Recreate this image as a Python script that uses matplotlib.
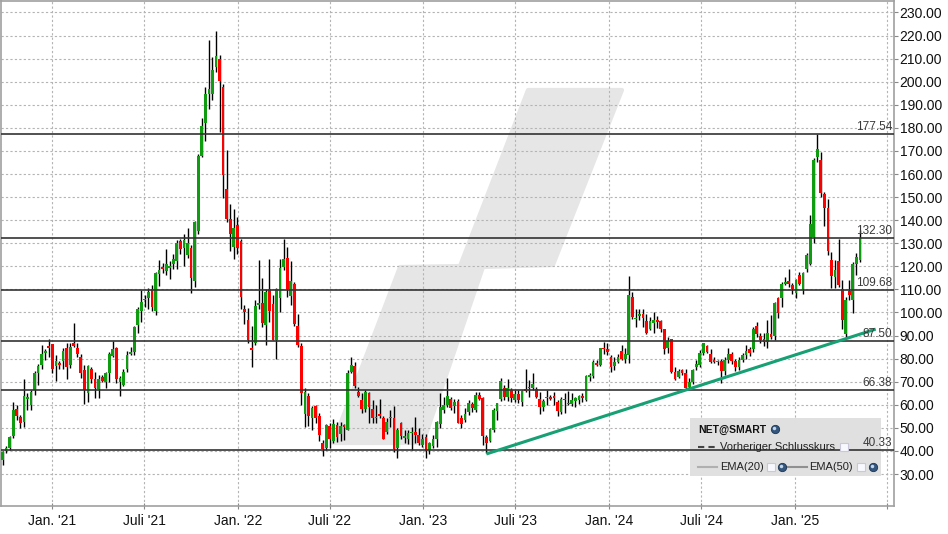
import pandas as pd
import matplotlib
matplotlib.use('Agg')
import matplotlib.pyplot as plt
import matplotlib.dates as mdates
from matplotlib.patches import Polygon, Rectangle
import matplotlib.transforms as mtransforms

plt.rcParams['font.family'] = ['Liberation Sans', 'DejaVu Sans']

# weekly candles, NET@SMART
start_week = '2020-09-25'

opens = [
    36.0, 40.0, 41.2, 46.5, 58.0, 54.8, 52.6, 62.5, 59.9, 66.4,
    73.9, 77.2, 82.6, 85.4, 86.3, 77.0, 78.0, 79.0, 84.5, 77.2,
    86.7, 84.5, 80.5, 75.0, 65.0, 75.5, 71.4, 67.0, 72.0, 69.7,
    73.6, 81.0, 84.5, 69.7, 68.8, 75.5, 82.2, 83.0, 94.8, 100.7,
    105.4, 106.5, 110.0, 100.7, 116.6, 119.6, 117.9, 119.4, 120.9, 122.4,
    130.9, 128.0, 124.8, 127.8, 113.7, 135.2, 167.7, 182.0, 194.5, 194.5,
    206.3, 209.7, 197.7, 153.4, 140.4, 128.4, 137.8, 130.9, 101.4, 96.7,
    84.6, 86.6, 103.2, 104.3, 94.8, 110.0, 103.6, 88.0, 106.3, 119.8,
    123.6, 107.0, 112.3, 94.0, 85.5, 56.0, 63.9, 54.5, 59.4, 55.1,
    43.3, 41.1, 50.9, 44.3, 51.2, 47.3, 51.0, 49.3, 74.3, 76.8,
    65.6, 62.0, 58.0, 64.9, 58.0, 54.3, 55.8, 54.5, 48.3, 54.1,
    54.1, 41.1, 52.2, 45.8, 45.0, 47.7, 48.3, 46.9, 42.6, 45.9,
    40.4, 42.1, 45.2, 51.9, 57.7, 59.9, 62.5, 59.6, 61.6, 54.1,
    53.4, 57.0, 60.3, 57.7, 64.2, 63.0, 46.2, 44.4, 49.0, 57.4,
    62.5, 67.1, 63.5, 66.4, 62.3, 64.9, 61.3, 66.6, 67.5, 67.5,
    66.8, 62.3, 59.1, 62.9, 63.0, 63.4, 61.3, 57.0, 62.4, 60.3,
    60.5, 61.5, 62.3, 63.8, 62.3, 72.1, 72.4, 78.2, 77.2, 84.7,
    84.0, 80.8, 76.7, 78.6, 83.4, 79.8, 81.5, 106.8, 97.1, 98.5,
    99.5, 96.2, 92.8, 95.5, 96.9, 96.2, 92.8, 84.8, 88.4, 74.3,
    72.1, 75.0, 74.0, 67.8, 70.0, 76.5, 77.2, 82.5, 85.4, 81.9,
    79.3, 78.5, 79.0, 74.5, 79.5, 82.0, 79.0, 76.5, 79.5, 81.5,
    84.0, 84.0, 94.2, 89.7, 88.7, 87.3, 90.9, 89.7, 106.1, 106.1,
    112.3, 113.5, 111.8, 108.5, 116.1, 110.0, 119.0, 121.2, 132.7, 167.4,
    166.2, 151.2, 145.4, 122.6, 115.4, 122.2, 110.0, 90.9, 109.4, 105.3,
    120.9, 122.6,
]
highs = [
    40.0, 42.1, 46.5, 61.3, 59.9, 55.5, 71.0, 65.2, 66.5, 74.5,
    77.6, 85.9, 84.0, 88.5, 86.5, 81.5, 79.0, 84.7, 86.6, 86.6,
    95.5, 86.6, 82.2, 77.2, 77.2, 76.5, 74.3, 72.9, 72.9, 74.3,
    83.0, 87.7, 85.1, 72.3, 75.3, 83.3, 85.1, 94.1, 102.5, 109.7,
    107.5, 110.4, 111.8, 117.5, 122.6, 121.5, 127.3, 122.4, 125.5, 131.3,
    131.7, 134.2, 136.8, 129.1, 139.5, 168.8, 184.4, 197.7, 217.9, 210.7,
    221.8, 211.4, 199.1, 170.3, 147.2, 145.0, 141.4, 132.0, 103.2, 102.1,
    94.0, 105.3, 122.6, 115.1, 110.0, 123.1, 107.5, 110.4, 123.1, 132.0,
    128.4, 122.2, 113.3, 99.3, 86.6, 67.1, 64.9, 59.4, 59.9, 56.6,
    44.7, 51.5, 51.9, 53.8, 52.7, 52.7, 51.5, 75.0, 80.5, 78.6,
    67.8, 65.2, 66.6, 65.6, 62.0, 59.9, 62.3, 55.1, 54.4, 57.7,
    59.4, 49.8, 52.7, 49.0, 49.0, 50.5, 54.8, 49.8, 47.3, 47.3,
    44.0, 46.9, 53.1, 64.9, 63.5, 71.8, 63.2, 62.3, 62.3, 55.5,
    58.4, 62.0, 61.3, 65.6, 65.6, 63.5, 46.9, 49.8, 58.4, 60.9,
    71.4, 68.5, 71.0, 67.1, 66.4, 66.4, 66.4, 75.3, 70.7, 73.6,
    67.8, 65.6, 62.3, 66.4, 64.2, 65.6, 62.0, 63.5, 64.9, 66.0,
    65.2, 63.5, 64.2, 65.2, 72.8, 73.6, 79.3, 79.3, 84.8, 87.3,
    86.6, 81.5, 80.8, 81.8, 85.8, 84.4, 115.7, 108.9, 101.7, 101.7,
    101.3, 99.5, 98.1, 100.3, 98.4, 96.7, 93.0, 89.4, 88.7, 76.2,
    75.7, 75.7, 75.7, 71.4, 75.7, 79.3, 83.9, 86.9, 85.8, 84.0,
    80.8, 79.3, 80.0, 80.5, 84.4, 83.0, 80.0, 80.5, 82.5, 85.8,
    85.0, 93.8, 95.9, 90.9, 90.9, 96.9, 98.8, 104.6, 106.8, 113.3,
    115.4, 119.0, 112.8, 114.7, 117.6, 117.6, 125.8, 142.1, 167.1, 177.54,
    169.5, 152.2, 149.0, 126.2, 122.6, 132.0, 114.0, 106.8, 114.0, 121.9,
    125.8, 135.9,
]
lows = [
    34.0, 38.9, 40.5, 45.5, 53.4, 49.8, 50.2, 57.7, 57.7, 64.2,
    68.5, 75.3, 79.4, 80.5, 73.6, 70.3, 75.5, 75.7, 71.0, 76.0,
    85.1, 80.8, 71.8, 60.2, 61.0, 69.3, 63.0, 62.8, 70.0, 67.4,
    69.7, 80.8, 69.3, 63.9, 68.2, 74.3, 81.5, 81.5, 91.3, 96.0,
    102.5, 101.3, 100.7, 98.8, 111.5, 116.9, 116.1, 114.4, 119.0, 119.0,
    125.5, 120.0, 123.8, 108.5, 111.1, 134.2, 167.4, 174.3, 188.1, 191.9,
    204.2, 178.2, 149.8, 139.2, 126.7, 123.0, 125.5, 101.3, 95.2, 86.9,
    76.2, 85.8, 101.7, 93.5, 86.1, 95.9, 88.0, 80.0, 100.0, 118.6,
    106.5, 103.2, 94.1, 85.1, 59.9, 50.5, 50.8, 49.0, 52.2, 44.4,
    37.8, 40.4, 41.1, 43.3, 44.0, 44.4, 44.7, 49.0, 73.6, 67.1,
    63.5, 56.3, 57.0, 51.9, 52.2, 51.9, 54.1, 45.0, 47.3, 50.5,
    39.7, 36.8, 45.0, 43.3, 42.8, 40.4, 43.3, 42.6, 41.8, 36.8,
    38.6, 41.1, 41.5, 49.8, 56.3, 59.2, 57.7, 56.3, 51.9, 49.8,
    52.6, 55.5, 57.0, 57.0, 62.0, 42.5, 38.9, 44.0, 48.3, 53.4,
    61.6, 62.0, 61.6, 61.3, 61.3, 60.6, 59.4, 65.6, 63.5, 66.4,
    62.8, 55.8, 57.4, 59.9, 62.0, 59.9, 55.1, 55.9, 56.3, 59.9,
    59.5, 59.0, 60.5, 61.0, 61.5, 70.5, 71.4, 76.8, 76.8, 81.8,
    81.5, 74.3, 75.0, 77.9, 79.3, 77.9, 77.9, 97.0, 93.8, 96.7,
    93.8, 90.6, 92.3, 90.9, 93.4, 91.6, 81.8, 82.5, 73.9, 70.7,
    71.4, 72.9, 66.4, 67.1, 69.2, 75.0, 76.5, 81.5, 82.5, 77.9,
    77.9, 77.2, 69.5, 73.0, 78.0, 77.5, 74.5, 75.0, 78.5, 80.0,
    81.0, 83.0, 89.5, 86.9, 85.4, 84.8, 88.7, 88.0, 97.8, 102.4,
    111.8, 111.1, 108.2, 106.1, 111.8, 108.2, 117.6, 120.5, 129.9, 165.2,
    150.1, 137.4, 124.8, 110.4, 110.4, 111.1, 93.0, 89.2, 105.3, 99.6,
    116.1, 121.9,
]
closes = [
    39.7, 41.4, 46.0, 57.7, 55.0, 52.0, 64.0, 63.3, 65.6, 74.0,
    76.9, 82.0, 83.3, 84.7, 75.5, 79.0, 77.3, 83.3, 76.5, 85.0,
    85.6, 82.2, 73.9, 66.6, 76.8, 71.0, 67.5, 71.0, 70.4, 73.6,
    82.2, 84.0, 71.4, 71.8, 74.3, 81.5, 82.7, 93.8, 101.6, 104.6,
    106.0, 109.0, 102.4, 116.9, 118.3, 119.0, 121.2, 120.0, 123.1, 129.9,
    127.7, 131.3, 129.9, 115.0, 139.2, 167.7, 181.0, 194.5, 197.0, 204.9,
    211.0, 200.3, 159.4, 140.4, 134.2, 136.8, 128.0, 106.8, 100.3, 88.3,
    83.8, 102.7, 104.3, 95.5, 109.0, 100.6, 88.3, 110.0, 119.3, 123.1,
    110.0, 113.6, 95.0, 85.8, 65.2, 65.6, 55.1, 58.7, 54.5, 46.9,
    40.8, 51.2, 45.0, 51.6, 46.2, 50.9, 50.5, 73.9, 77.2, 68.2,
    63.9, 58.4, 65.6, 58.9, 54.1, 54.9, 55.2, 45.4, 52.7, 54.6,
    40.7, 49.3, 46.6, 46.2, 47.6, 48.1, 46.9, 43.3, 45.0, 40.1,
    43.3, 45.2, 52.6, 59.1, 59.9, 63.8, 58.7, 61.3, 52.2, 51.9,
    56.0, 61.0, 58.7, 64.2, 62.5, 46.4, 43.6, 49.3, 57.7, 60.6,
    70.4, 63.5, 67.4, 63.0, 64.9, 62.0, 66.0, 66.2, 67.1, 69.0,
    63.2, 58.9, 61.6, 63.3, 62.6, 63.0, 57.4, 62.5, 62.0, 60.8,
    62.0, 62.8, 63.8, 62.8, 72.4, 72.8, 78.6, 77.2, 84.4, 84.0,
    83.0, 76.2, 78.6, 80.8, 79.8, 82.2, 107.5, 98.1, 97.8, 99.5,
    97.8, 91.2, 96.2, 96.7, 96.0, 93.0, 84.0, 87.7, 74.3, 71.4,
    74.6, 73.9, 67.5, 70.0, 75.0, 77.6, 82.5, 86.6, 83.0, 78.6,
    78.5, 79.2, 74.5, 79.5, 82.0, 79.0, 76.5, 79.5, 81.5, 83.5,
    82.5, 93.0, 90.9, 88.0, 87.3, 90.9, 89.5, 103.9, 99.6, 112.5,
    113.3, 112.3, 110.4, 114.3, 112.5, 117.2, 124.8, 138.2, 166.2, 171.0,
    151.8, 145.4, 126.7, 115.7, 118.6, 111.8, 96.9, 105.6, 107.5, 120.9,
    124.1, 132.3,
]

levels = [177.54, 132.30, 109.68, 87.50, 66.38, 40.33]
trend_dates = ['2023-05-05', '2025-06-09']
trend_values = [38.7, 92.8]

tick_dates = ['2021-01-01', '2021-07-01', '2022-01-01', '2022-07-01', '2023-01-01',
              '2023-07-01', '2024-01-01', '2024-07-01', '2025-01-01', '2025-07-01']
tick_labels = ["Jan. '21", "Juli '21", "Jan. '22", "Juli '22", "Jan. '23",
               "Juli '23", "Jan. '24", "Juli '24", "Jan. '25", ""]

W, H = 948, 534
fig = plt.figure(figsize=(W / 100, H / 100), dpi=100)
ax = fig.add_axes([0.5 / W, 1 - 506 / H, 893.5 / W, 505.5 / H])


def px(x, y):
    return (x / W, 1 - y / H)


dates = pd.date_range(start_week, periods=len(closes), freq='7D')
x = mdates.date2num(dates)

# watermark
wm = [(333, 443), (400, 267), (460, 266), (528, 90), (622, 90),
      (553, 265), (483, 267), (423, 443)]
ax.add_patch(Polygon([px(a, b) for a, b in wm], closed=True, transform=fig.transFigure,
                     facecolor='#e6e6e6', edgecolor='#e6e6e6', lw=3, joinstyle='round',
                     zorder=0.2))

# candles
up_col, dn_col = '#109c10', '#ff0000'
ax.vlines(x, lows, highs, color='black', lw=1.0, zorder=2)
bottoms = [min(o, c) for o, c in zip(opens, closes)]
heights = [max(abs(c - o), 0.6) for o, c in zip(opens, closes)]
colors = [up_col if c >= o else dn_col for o, c in zip(opens, closes)]
ax.bar(x, heights, bottom=bottoms, width=5.4, color=colors, lw=0, zorder=3)

# horizontal levels
blend = mtransforms.blended_transform_factory(ax.transAxes, ax.transData)
for lv in levels:
    ax.axhline(lv, color='#333333', lw=1.2, zorder=4)
    ax.text(0.998, lv + 0.4, f'{lv:.2f}', transform=blend, ha='right', va='bottom',
            fontsize=8.5, color='#3a3a3a', zorder=6)

# trend line
ax.plot(mdates.date2num(pd.to_datetime(trend_dates)), trend_values, color='#17a074',
        lw=2.2, zorder=5, solid_capstyle='butt')

ax.set_xlim(mdates.date2num(pd.Timestamp('2020-09-21')), mdates.date2num(pd.Timestamp('2025-07-15')))
ax.set_ylim(16.15, 235.2)

ax.set_xticks(mdates.date2num(pd.to_datetime(tick_dates)))
ax.set_xticklabels(tick_labels)
ax.set_yticks(range(30, 240, 10))
ax.set_yticklabels([f'{v:.2f}' for v in range(30, 240, 10)])
ax.yaxis.tick_right()
ax.tick_params(axis='y', length=3, pad=1, labelsize=10, colors='#111111')
ax.tick_params(axis='x', length=4, direction='inout', pad=4, labelsize=10, colors='#111111')
ax.tick_params(axis='both', color='#888888')
ax.grid(True, color='#b4b4b4', linestyle=(0, (2, 2)), lw=0.8, zorder=0.5)
ax.set_axisbelow(True)
for sp in ax.spines.values():
    sp.set_color('#a0a0a0')
    sp.set_linewidth(1.2)

# legend box
x0, y0 = px(690, 476)
x1, y1 = px(881, 418)
ax.add_patch(Rectangle((x0, y0), x1 - x0, y1 - y0, transform=fig.transFigure,
                       facecolor='#e0e0e0', edgecolor='none', zorder=1.5))
ft = fig.transFigure
ax.text(*px(698, 430), 'NET@SMART', transform=ft, fontsize=7.5, fontweight='bold',
        va='center', color='#111111', zorder=6)
ax.plot(*zip(px(698, 447), px(716, 447)), transform=ft, color='#444444', lw=1.5,
        dashes=(3, 2), zorder=6)
ax.text(*px(720, 447), 'Vorheriger Schlusskurs', transform=ft, fontsize=8,
        va='center', color='#222222', zorder=6)
ax.plot(*zip(px(698, 467), px(717, 467)), transform=ft, color='#b0b0b0', lw=1.5, zorder=6)
ax.text(*px(720, 467), 'EMA(20)', transform=ft, fontsize=8, va='center', color='#222222', zorder=6)
ax.plot(*zip(px(785, 467), px(807, 467)), transform=ft, color='#909090', lw=1.5, zorder=6)
ax.text(*px(809, 467), 'EMA(50)', transform=ft, fontsize=8, va='center', color='#222222', zorder=6)
for sx, sy in [(844, 447), (771, 467), (861, 467)]:
    ax.plot(*px(sx, sy), transform=ft, marker='s', ms=5.5, mfc='#f8f8ff', mec='#c8c8d8',
            mew=0.8, zorder=7)
for gx, gy in [(775, 429), (782, 467), (873, 467)]:
    ax.plot(*px(gx, gy), transform=ft, marker='o', ms=6, mfc='#34567e', mec='#1d3550',
            mew=0.6, zorder=7)
    ax.plot(*px(gx - 1, gy - 1), transform=ft, marker='o', ms=2.5, mfc='#c4d6ea',
            mec='none', zorder=8)

fig.savefig('out.png', dpi=100)
